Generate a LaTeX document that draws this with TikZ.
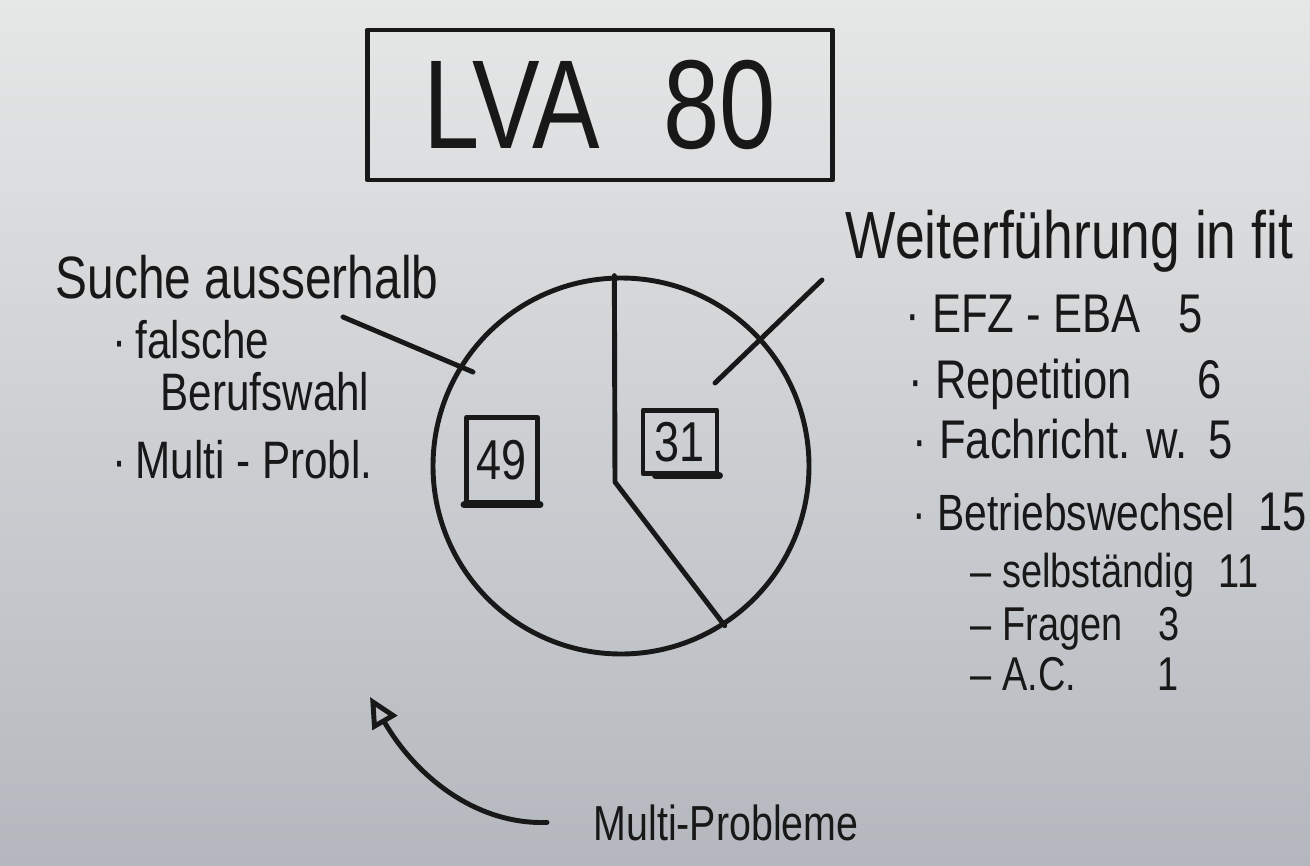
\documentclass[tikz,border=0pt]{standalone}
\usepackage{fontspec}
\newfontfamily\hand[FakeStretch=0.8]{Liberation Sans}
\usetikzlibrary{arrows.meta}
\definecolor{papertop}{RGB}{230,231,231}
\definecolor{paperbottom}{RGB}{180,184,190}
\definecolor{marker}{RGB}{24,24,24}
\tikzset{
  pen/.style={draw=marker, line width=1.4pt, line cap=round, line join=round},
  txt/.style={text=marker, inner sep=0pt},
  big/.style={txt, font=\hand\fontsize{36}{40}\selectfont},
  head/.style={txt, anchor=base west, font=\hand\fontsize{19}{22}\selectfont},
  item/.style={txt, anchor=base west, font=\hand\fontsize{15.5}{18}\selectfont},
  subitem/.style={txt, anchor=base west, font=\hand\fontsize{13.5}{16}\selectfont},
  leftitem/.style={txt, anchor=base west, font=\hand\fontsize{15}{17}\selectfont},
  numbox/.style={pen, inner sep=0pt, font=\hand\fontsize{16}{18}\selectfont, text=marker}
}
\begin{document}
\begin{tikzpicture}
\shade[top color=papertop, bottom color=paperbottom] (0,0) rectangle (13.1,-8.66);
\useasboundingbox (0,0) rectangle (13.1,-8.66);
% title box
\node[big, pen, minimum width=4.65cm, minimum height=1.5cm] (title) at (6.0,-1.05) {LVA\hspace{18pt}80};
% pie
\node[pen, circle, minimum size=3.76cm] (pie) at (6.21,-4.66) {};
\coordinate (hub) at (6.15,-4.82);
\draw[pen] (pie.92) -- (hub) -- (pie.-57);
\node[numbox, minimum width=0.71cm, minimum height=0.85cm] (n49) at (5.02,-4.60) {49};
\draw[pen, line width=2pt] (n49.south west) -- (n49.south east);
\node[numbox, minimum width=0.74cm, minimum height=0.63cm] (n31) at (6.80,-4.42) {31};
\draw[pen, line width=2pt] ([xshift=0.15cm]n31.south west) -- (n31.south east);
% left side
\node[head, font=\hand\fontsize{17}{20}\selectfont] (suche) at (0.55,-2.98) {Suche ausserhalb};
\node[leftitem] (falsche) at (1.12,-3.58) {·\,falsche};
\node[leftitem] (beruf) at (1.60,-4.10) {Berufswahl};
\node[leftitem] (multi) at (1.12,-4.78) {·\,Multi - Probl.};
\coordinate (sucheA) at (3.43,-3.17);
\coordinate (sucheB) at (4.73,-3.72);
\draw[pen] (sucheA) -- (sucheB);
% right side
\node[head] (weiter) at (8.45,-2.58) {Weiterführung in fit};
\coordinate (weiterA) at (8.22,-2.80);
\coordinate (weiterB) at (7.15,-3.83);
\draw[pen] (weiterA) -- (weiterB);
\node[item] (efz) at (9.05,-3.32) {·\ EFZ - EBA};
\node[item] (efzn) at (11.78,-3.32) {5};
\node[item] (rep) at (9.08,-3.98) {·\ Repetition};
\node[item] (repn) at (11.97,-3.98) {6};
\node[item] (fach) at (9.12,-4.58) {·\ Fachricht. w.};
\node[item] (fachn) at (12.08,-4.58) {5};
\node[item, font=\hand\fontsize{14.5}{17}\selectfont] (betr) at (9.12,-5.30) {·\ Betriebswechsel};
\node[item] (betrn) at (12.58,-5.30) {15};
\node[subitem] (selb) at (9.70,-5.87) {–\ selbständig};
\node[subitem] (selbn) at (12.18,-5.87) {11};
\node[subitem] (frag) at (9.70,-6.40) {–\ Fragen};
\node[subitem] (fragn) at (11.58,-6.40) {3};
\node[subitem] (ac) at (9.70,-6.90) {–\ A.C.};
\node[subitem] (acn) at (11.57,-6.90) {1};
% bottom arrow
\node[txt, anchor=base west, font=\hand\fontsize{14}{16}\selectfont] (mp) at (5.93,-8.40) {Multi-Probleme};
\coordinate (arrowtip) at (3.70,-6.97);
\draw[pen, -{Triangle[open, length=0.3cm, width=0.28cm]}] ([xshift=-0.46cm]mp.west) .. controls (4.75,-8.25) and (4.15,-7.75) .. (arrowtip);
\end{tikzpicture}
\end{document}
